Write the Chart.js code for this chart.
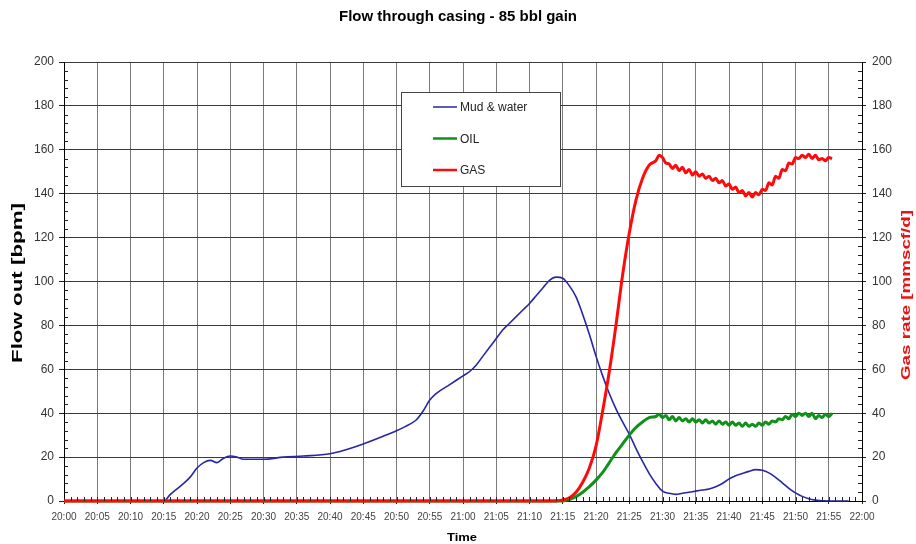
<!DOCTYPE html>
<html>
<head>
<meta charset="utf-8">
<title>Flow through casing</title>
<script src="https://cdn.jsdelivr.net/npm/chart.js@4.4.1/dist/chart.umd.min.js"></script>
<style>
  body { margin: 0; background: #fff; }
  #wrap { width: 916px; height: 544px; }
</style>
</head>
<body>
<div id="wrap"><canvas id="myChart" width="916" height="544"></canvas></div>
<script>
// minutes after 20:00
var tickLabels = ['20:00', '20:05', '20:10', '20:15', '20:20', '20:25', '20:30', '20:35', '20:40', '20:45', '20:50', '20:55',
  '21:00', '21:05', '21:10', '21:15', '21:20', '21:25', '21:30', '21:35', '21:40', '21:45', '21:50', '21:55', '22:00'];

var mudTime = [0, 15, 16, 17, 18, 19, 20, 21, 22, 23, 24, 25, 26, 27, 28, 30, 33, 36, 40, 42, 45, 48, 50, 52, 53, 54, 55, 56, 58,
  60, 61, 62, 63, 64, 65, 66, 67, 68, 69, 70, 71, 72, 73, 74, 75, 76, 77, 78, 79, 80, 81, 82, 83, 84, 85, 86, 87, 88, 89,
  90, 91, 92, 93, 94, 95, 96, 97, 98, 99, 100, 101, 102, 103, 104, 105, 106, 107, 108, 109, 110, 111, 112, 113, 114, 118];
var mudFlow = [0, 0, 3, 5.5, 8, 11, 15, 17.5, 18.5, 17.5, 19.5, 20.5, 20, 19, 19, 19, 20, 20.5, 21.5, 23, 26, 29.5, 32, 35, 37, 41, 46, 49, 53,
  57, 59, 62, 66, 70, 74, 78, 81, 84, 87, 90, 93.5, 97, 100.5, 102, 101.5, 98, 93, 85, 76, 66, 57, 49, 42, 36, 30.5, 24, 18, 12.5, 8,
  4.5, 3.5, 3, 3.5, 4, 4.5, 5, 5.5, 6.5, 8, 10, 11.5, 12.5, 13.5, 14.3, 14, 12.8, 10.8, 8.3, 5.8, 3.7, 2.1, 1, 0.4, 0.1, 0];

var oilTime = [0, 75, 76, 77, 78, 79, 80, 81, 82, 83, 84, 85, 86, 87, 88,
  89, 89.5, 90, 90.5, 91, 91.5, 92, 92.5, 93, 93.5, 94, 94.5, 95, 95.5, 96, 96.5, 97, 97.5, 98, 98.5, 99, 99.5,
  100, 100.5, 101, 101.5, 102, 102.5, 103, 103.5, 104, 104.5, 105, 105.5, 106, 106.5, 107, 107.5, 108, 108.5, 109, 109.5,
  110, 110.5, 111, 111.5, 112, 112.5, 113, 113.5, 114, 114.5, 115, 115.5];
var oilFlow = [0, 0, 0.7, 2, 4, 6.5, 9.5, 13, 17.5, 22, 26, 30, 33.5, 36, 38,
  38.5, 39.5, 38, 39, 37, 38.5, 36.5, 38, 36.5, 37.5, 36, 37.5, 36, 37, 35.5, 37, 35.5, 36.5, 35, 36.5, 35, 36,
  34.5, 36, 34.5, 35.5, 34, 35.5, 34, 35, 34, 35.5, 34.5, 36, 35, 36.5, 36, 37.5, 37, 38.5, 37.5, 39.5,
  38.5, 40, 39, 40, 38.5, 40, 37.5, 39, 38, 39.5, 38.5, 40];

var gasTime = [0, 74, 75, 76, 77, 78, 79, 80, 81, 82, 83, 84, 85, 86, 87, 88,
  89, 89.5, 90, 90.5, 91, 91.5, 92, 92.5, 93, 93.5, 94, 94.5, 95, 95.5, 96, 96.5, 97, 97.5, 98, 98.5, 99, 99.5,
  100, 100.5, 101, 101.5, 102, 102.5, 103, 103.5, 104, 104.5, 105, 105.5, 106, 106.5, 107, 107.5, 108, 108.5, 109, 109.5,
  110, 110.5, 111, 111.5, 112, 112.5, 113, 113.5, 114, 114.5, 115, 115.5];
var gasRate = [0, 0, 0.5, 1.5, 4, 8.5, 15, 25, 41, 59, 80, 103, 122, 137, 147, 153,
  155, 157.5, 156.5, 154, 153.5, 151.5, 153, 150.5, 152, 149.5, 151, 148.5, 150, 148, 149, 147, 148, 146, 147, 145, 146, 143.5,
  144.5, 142, 143, 140.5, 141.5, 139, 140.5, 138.5, 140.5, 139.5, 142, 141.5, 145, 144, 148, 147, 151, 150.5, 154, 153.5,
  156.5, 156, 157.5, 156.5, 158, 156, 157.5, 155.5, 156, 155, 156.5, 156];

function pts(xs, ys) {
  var out = [];
  for (var i = 0; i < xs.length; i++) out.push({ x: xs[i], y: ys[i] });
  return out;
}

var FONT = "'Liberation Sans', Arial, sans-serif";

// writes text stretched/squeezed to a given length, like the source picture
function fitText(ctx, text, cx, cy, angle, font, len, color) {
  ctx.save();
  ctx.translate(cx, cy);
  ctx.rotate(angle);
  ctx.font = font;
  var w = ctx.measureText(text).width;
  ctx.scale(len / w, 1);
  ctx.fillStyle = color;
  ctx.textAlign = 'center';
  ctx.textBaseline = 'middle';
  ctx.fillText(text, 0, 0);
  ctx.restore();
}

var extras = {
  id: 'extras',
  afterDraw: function(chart) {
    var ctx = chart.ctx, a = chart.chartArea;
    var xs = chart.scales.x, ys = chart.scales.y;
    ctx.save();
    ctx.strokeStyle = '#222';
    ctx.lineWidth = 1;
    ctx.beginPath();
    for (var v = 0; v <= 200; v += 4) {
      if (v % 20 === 0) continue;
      var py = Math.round(ys.getPixelForValue(v)) + 0.5;
      ctx.moveTo(a.left, py); ctx.lineTo(a.left + 4, py);
      ctx.moveTo(a.right - 4, py); ctx.lineTo(a.right, py);
    }
    for (var m = 1; m < 120; m++) {
      var px = Math.round(xs.getPixelForValue(m)) + 0.5;
      ctx.moveTo(px, a.bottom); ctx.lineTo(px, a.bottom - 4);
    }
    ctx.stroke();

    // legend box
    ctx.fillStyle = '#fff';
    ctx.fillRect(401, 92, 159, 94);
    ctx.strokeStyle = '#444';
    ctx.strokeRect(401.5, 92.5, 159, 94);
    var ds = chart.data.datasets;
    for (var i = 0; i < ds.length; i++) {
      var ly = 107 + i * 31.5;
      ctx.beginPath();
      ctx.strokeStyle = ds[i].borderColor;
      ctx.lineWidth = i === 0 ? 1.5 : 2.5;
      ctx.moveTo(433, ly); ctx.lineTo(457, ly);
      ctx.stroke();
      ctx.fillStyle = '#222';
      ctx.font = '12px ' + FONT;
      ctx.textAlign = 'left';
      ctx.textBaseline = 'middle';
      ctx.fillText(ds[i].label, 460, ly + 1);
    }
    ctx.restore();

    fitText(ctx, 'Flow through casing - 85 bbl gain', 458, 17, 0, 'bold 14px ' + FONT, 238, '#000');
    fitText(ctx, 'Flow out [bpm]', 18, 283, -Math.PI / 2, 'bold 14px ' + FONT, 160, '#000');
    fitText(ctx, 'Gas rate [mmscf/d]', 906, 295, -Math.PI / 2, 'bold 13px ' + FONT, 170, '#ee1111');
    fitText(ctx, 'Time', 462, 538, 0, 'bold 11px ' + FONT, 30, '#000');
  }
};

var ctx = document.getElementById('myChart').getContext('2d');
var myChart = new Chart(ctx, {
  type: 'line',
  data: {
    datasets: [{
      label: 'Mud & water',
      data: pts(mudTime, mudFlow),
      borderColor: '#2626a6',
      borderWidth: 1.6,
      yAxisID: 'y',
      order: 2
    }, {
      label: 'OIL',
      data: pts(oilTime, oilFlow),
      borderColor: '#11901a',
      borderWidth: 3,
      yAxisID: 'y',
      order: 1
    }, {
      label: 'GAS',
      data: pts(gasTime, gasRate),
      borderColor: '#ff0a0a',
      borderWidth: 3,
      yAxisID: 'y2',
      order: 0
    }]
  },
  options: {
    responsive: false,
    animation: false,
    devicePixelRatio: 1,
    layout: { padding: { top: 62, left: 0, right: 0, bottom: 0 } },
    elements: {
      point: { radius: 0 },
      line: { cubicInterpolationMode: 'monotone' }
    },
    datasets: { line: { clip: 4 } },
    plugins: {
      legend: { display: false },
      title: { display: false },
      tooltip: { enabled: false }
    },
    scales: {
      x: {
        type: 'linear',
        min: 0,
        max: 120,
        afterFit: function(s) { s.height = 43; },
        border: { color: '#000' },
        grid: { color: '#7a7a7a', tickLength: 3, tickColor: '#222' },
        ticks: {
          stepSize: 5,
          autoSkip: false,
          maxRotation: 0,
          padding: 7,
          color: '#444',
          font: { family: FONT, size: 10 },
          callback: function(v) { return tickLabels[v / 5]; }
        }
      },
      y: {
        position: 'left',
        min: 0,
        max: 200,
        afterFit: function(s) { s.width = 64; },
        border: { color: '#000' },
        grid: { color: '#3a3a3a', tickLength: 5, tickColor: '#222' },
        ticks: { stepSize: 20, padding: 5, color: '#333', font: { family: FONT, size: 12 } }
      },
      y2: {
        position: 'right',
        min: 0,
        max: 200,
        afterFit: function(s) { s.width = 54; },
        border: { color: '#000' },
        grid: { drawOnChartArea: false, tickLength: 4, tickColor: '#222' },
        ticks: { stepSize: 20, padding: 6, color: '#333', font: { family: FONT, size: 12 } }
      }
    }
  },
  plugins: [extras]
});
</script>
</body>
</html>
